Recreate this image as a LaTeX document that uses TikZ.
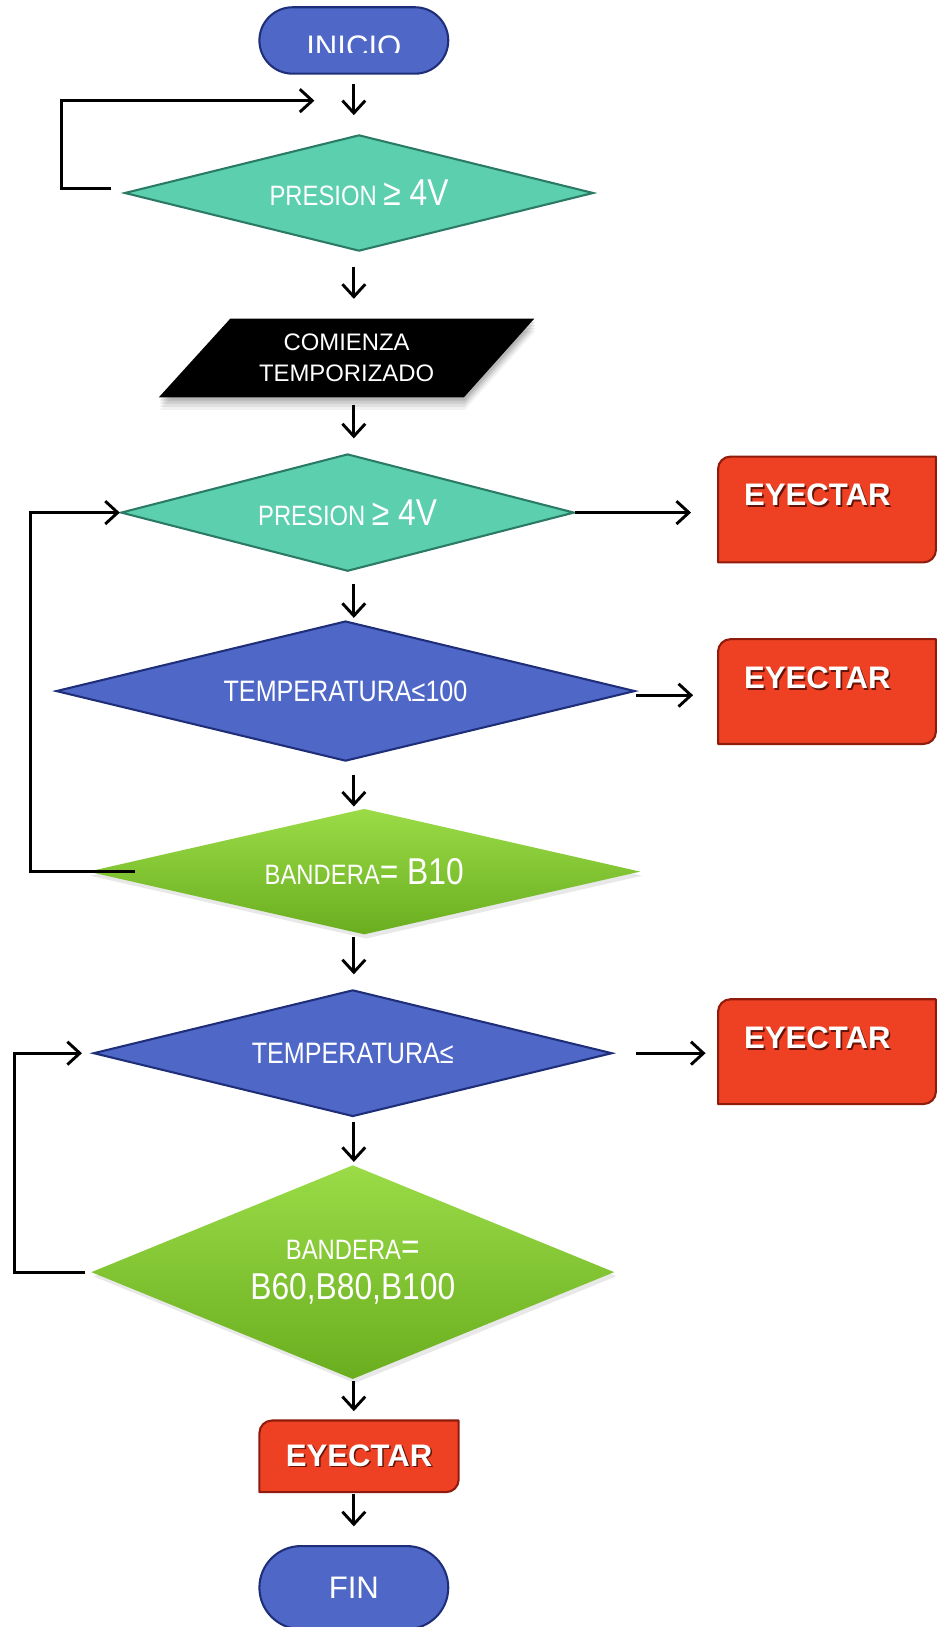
\documentclass[tikz,border=0pt]{standalone}
\usepackage{fontspec}
\setmainfont{Liberation Sans}
\newfontfamily\narrowsans[FakeStretch=0.85]{Liberation Sans}
\usetikzlibrary{shapes.geometric,shapes.misc,arrows.meta,calc,shadows}

\definecolor{tealfill}{HTML}{5CCFAF}
\definecolor{tealline}{HTML}{2B7A66}
\definecolor{bluefill}{HTML}{4F68C8}
\definecolor{blueline}{HTML}{1F2E78}
\definecolor{greentop}{HTML}{9ADB47}
\definecolor{greenbot}{HTML}{6AAE1F}
\definecolor{redfill}{HTML}{EE4124}
\definecolor{redline}{HTML}{8E1B0B}

\newcommand\smalltxt{\narrowsans\fontsize{27}{30}\selectfont}
\newcommand\bigtxt{\narrowsans\fontsize{36}{39}\selectfont}
\newcommand\shadowed[1]{\makebox[0pt][l]{\hspace{1.5pt}\raisebox{-1.5pt}{\textcolor{redline!70!black}{#1}}}#1}
% red process box with rounded top-left and bottom-right corners
\newcommand\ejbox[1]{%
  \filldraw[fill=redfill, draw=redline, line width=2pt, line join=round]
    (#1.south west) -- ($(#1.north west)+(0,12)$)
    .. controls ($(#1.north west)+(0,5.4)$) and ($(#1.north west)+(5.4,0)$) .. ($(#1.north west)+(12,0)$)
    -- (#1.north east) -- ($(#1.south east)+(0,-12)$)
    .. controls ($(#1.south east)+(0,-5.4)$) and ($(#1.south east)+(-5.4,0)$) .. ($(#1.south east)+(-12,0)$)
    -- cycle;}

\begin{document}
\begin{tikzpicture}[x=1pt,y=-1pt,
  arr/.style={line width=2.8pt,-{Straight Barb[length=12pt,width=22pt]}},
  term/.style={rounded rectangle, fill=bluefill, draw=blueline, line width=2pt,
    minimum width=182pt, inner sep=0pt, text=white, font=\fontsize{30}{34}\selectfont},
  dteal/.style={diamond, fill=tealfill, draw=tealline, line width=2pt, inner sep=0pt, text=white},
  dblue/.style={diamond, fill=bluefill, draw=blueline, line width=2pt, inner sep=0pt, text=white},
  dgreen/.style={diamond, top color=greentop, bottom color=greenbot, inner sep=0pt, text=white,
    drop shadow={opacity=0.18, shadow xshift=2pt, shadow yshift=-4pt}},
  ejslot/.style={rectangle, inner sep=0pt, outer sep=0pt},
  ejtext/.style={text=white, font=\bfseries\fontsize{30}{34}\selectfont, inner sep=0pt},
  paratext/.style={text=white, align=center, font=\fontsize{23}{30}\selectfont, inner sep=0pt,
    outer sep=0pt, minimum width=294pt, minimum height=76pt},
]
\useasboundingbox (0,0) rectangle (904,1568);
\fill[white] (0,0) rectangle (904,1568);

% vertical axis of the main flow
\coordinate (ax) at (341,0);

% start terminal (its label is cut at the lower half)
\node[term, minimum height=64pt] (inicio) at (341,39) {};
\begin{scope}
  \clip (0,0) rectangle (904,51);
  \node[text=white, font=\fontsize{30}{34}\selectfont, inner sep=0pt] (iniciotxt) at (341,45) {INICIO};
\end{scope}

% first pressure check
\node[dteal, minimum width=452pt, minimum height=112pt, aspect=4] (d1) at (346,186)
  {{\smalltxt PRESION }{\bigtxt≥ 4V}};

% timer start (parallelogram with soft shadow)
\foreach \s/\o in {3/0.10,6/0.09,9/0.07,12/0.05}{
  \fill[black, opacity=\o, shift={(1,\s)}] (222,307) -- (515,307) -- (447,383) -- (153,383) -- cycle;
}
\fill[black] (222,307) -- (515,307) -- (447,383) -- (153,383) -- cycle;
\node[paratext] (para) at (334,345) {COMIENZA\\TEMPORIZADO};

% second pressure check
\node[dteal, minimum width=437pt, minimum height=113pt, aspect=3.9] (d2) at (335,494)
  {{\smalltxt PRESION }{\bigtxt≥ 4V}};

% temperature check
\node[dblue, minimum width=558pt, minimum height=135pt, aspect=4.1] (d3) at (333,666)
  {\narrowsans\fontsize{28.5}{31}\selectfont TEMPERATURA≤100};

% flag B10
\node[dgreen, minimum width=532pt, minimum height=121pt, aspect=4.4] (d4) at (351,840)
  {{\smalltxt BANDERA}{\bigtxt= B10}};

% second temperature check
\node[dblue, minimum width=500pt, minimum height=122pt, aspect=4.1] (d5) at (340,1015)
  {\narrowsans\fontsize{28.5}{31}\selectfont TEMPERATURA≤};

% flags B60, B80, B100
\node[dgreen, minimum width=504pt, minimum height=206pt, aspect=2.45, align=center, font=\bigtxt] (d6) at (340,1226)
  {{\smalltxt BANDERA}{\bigtxt=}\\{\bigtxt B60,B80,B100}};

% eject boxes
\node[ejslot, minimum width=210pt, minimum height=102pt] (ej1) at (797,491) {};
\ejbox{ej1}
\node[ejtext, anchor=west] (ej1t) at ([xshift=25pt,yshift=-38pt]ej1.north west) {\shadowed{EYECTAR}};

\node[ejslot, minimum width=210pt, minimum height=101pt] (ej2) at (797,666.5) {};
\ejbox{ej2}
\node[ejtext, anchor=west] (ej2t) at ([xshift=25pt,yshift=-38pt]ej2.north west) {\shadowed{EYECTAR}};

\node[ejslot, minimum width=210pt, minimum height=101pt] (ej3) at (797,1013.5) {};
\ejbox{ej3}
\node[ejtext, anchor=west] (ej3t) at ([xshift=25pt,yshift=-38pt]ej3.north west) {\shadowed{EYECTAR}};

\node[ejslot, minimum width=192pt, minimum height=69pt] (ej4) at (346,1403.5) {};
\ejbox{ej4}
\node[ejtext] (ej4t) at (ej4.center) {\shadowed{EYECTAR}};

% end terminal
\node[term, minimum height=80pt] (fin) at (341,1530) {FIN};

% main downward flow
\draw[arr, shorten <=9pt,  shorten >=18pt] (inicio.south -| ax) -- (d1.north -| ax);
\draw[arr, shorten <=14pt, shorten >=19pt] (d1.south -| ax) -- (para.north -| ax);
\draw[arr, shorten <=7pt,  shorten >=14pt] (para.south -| ax) -- (d2.north -| ax);
\draw[arr, shorten <=11pt, shorten >=2pt]  (d2.south -| ax) -- (d3.north -| ax);
\draw[arr, shorten <=12pt, shorten >=2pt]  (d3.south -| ax) -- (d4.north -| ax);
\draw[arr, shorten <=2pt,  shorten >=14pt] (d4.south -| ax) -- (d5.north -| ax);
\draw[arr, shorten <=4pt,  shorten >=3pt]  (d5.south -| ax) -- (d6.north -| ax);
\draw[arr, shorten <=2pt,  shorten >=9pt]  (d6.south -| ax) -- (ej4.north -| ax);
\draw[arr, shorten <=2pt,  shorten >=18pt] (ej4.south -| ax) -- (fin.north -| ax);

% branches to the eject boxes
\draw[arr, shorten >=26pt] (d2.east) -- (d2.east -| ej1.west);
\draw[arr, shorten >=24pt] ([yshift=-4pt]d3.east) coordinate (d3r) -- (d3r -| ej2.west);
\draw[arr, shorten >=12pt] ([xshift=22pt]d5.east) coordinate (d5r) -- (d5r -| ej3.west);

% return loops
\coordinate (l1e) at (303,97);
\draw[arr, line join=miter] ([xshift=-12pt,yshift=4pt]d1.west) -- ++(-48,0) |- (l1e);
\draw[arr, line join=miter] ([xshift=45pt]d4.west) -- ++(-100,0) |- (d2.west);
\draw[arr, line join=miter] ([xshift=-6pt]d6.west) -- ++(-68,0) |- ([xshift=-10pt]d5.west);
\end{tikzpicture}
\end{document}
